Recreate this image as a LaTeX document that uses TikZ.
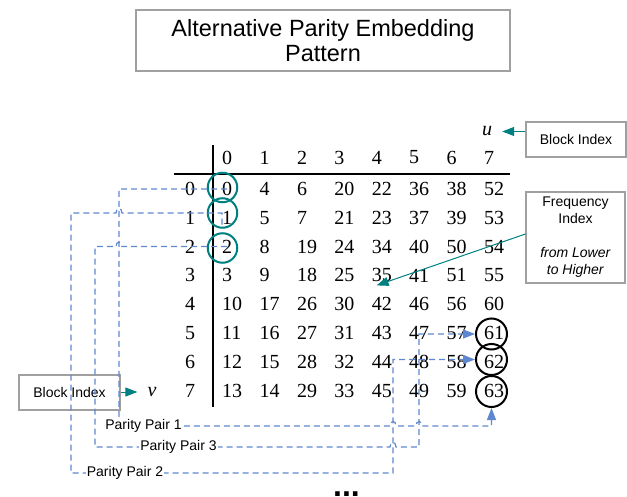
\documentclass[tikz,border=0pt]{standalone}
\usepackage{fontspec}
\setmainfont{Liberation Serif}
\newfontfamily\sansf{Liberation Sans}
\usetikzlibrary{arrows.meta}
\definecolor{tealc}{RGB}{0,128,128}
\definecolor{pairc}{RGB}{95,135,208}
\definecolor{boxgray}{RGB}{160,160,160}

\begin{document}
\begin{tikzpicture}[x=1pt,y=-1pt,
  num/.style={font=\fontsize{20}{22}\selectfont, inner sep=0pt, anchor=west},
  idx/.style={font=\fontsize{20}{22}\selectfont\itshape, inner sep=0pt},
  labelbox/.style={draw=boxgray, line width=1.1pt, font=\sansf\fontsize{14}{17}\selectfont,
    align=center, inner sep=0pt, minimum width=100pt},
  tealarrow/.style={draw=tealc, line width=1pt, -{Triangle[length=12pt,width=9pt,fill=tealc]}},
  pair/.style={draw=pairc, line width=1.2pt, dash pattern=on 6pt off 4pt,
    -{Triangle[length=12pt,width=9pt,fill=pairc]}},
  pairlabel/.style={font=\sansf\fontsize{14}{16}\selectfont, fill=white, inner sep=1pt},
  tealring/.style={circle, draw=tealc, line width=2pt, minimum size=29.5pt, inner sep=0pt},
  blackring/.style={circle, draw=black, line width=2pt, minimum size=31pt, inner sep=0pt},
  rule/.style={line width=2.5pt, draw=black}
]
\useasboundingbox (0,0) rectangle (627,497);

% title
\node[draw=boxgray, line width=1.1pt, minimum width=374pt, minimum height=61pt, align=center,
  font=\sansf\fontsize{23.5}{25}\selectfont, inner sep=0pt] (title) at (323,40.5)
  {Alternative Parity Embedding\\Pattern};

% column indices u
\foreach \i in {0,...,7}
  \node[num] (h-\i) at (222+37.4*\i,157.5) {\i};
% row indices v
\foreach \j in {0,...,7}
  \node[num] (r-\j) at (185,189+28.8*\j) {\j};

% frequency index table
\foreach \row [count=\j from 0] in {%
  {0,4,6,20,22,36,38,52},
  {1,5,7,21,23,37,39,53},
  {2,8,19,24,34,40,50,54},
  {3,9,18,25,35,41,51,55},
  {10,17,26,30,42,46,56,60},
  {11,16,27,31,43,47,57,61},
  {12,15,28,32,44,48,58,62},
  {13,14,29,33,45,49,59,63}} {
  \foreach \v [count=\i from 0] in \row
    \node[num] (c-\i-\j) at (222+37.4*\i,189+28.8*\j) {\v};
}

% table rules
\draw[rule] (174,174) -- (510,174);
\draw[rule] (213,145) -- (213,407);

% circled coefficients
\node[tealring] (t0) at (222.5,187.5) {};
\node[tealring] (t1) at (222.5,213) {};
\node[tealring] (t2) at (222.5,248) {};
\node[blackring] (o61) at (491.5,334) {};
\node[blackring] (o62) at (491.5,359.5) {};
\node[blackring] (o63) at (491.5,391.5) {};

% axis names and their labels
\node[idx] (u) at (487,131.5) {u};
\node[idx] (v) at (152,392) {v};
\node[labelbox, minimum height=35pt] (bir) at (576,139.5) {Block Index};
\node[labelbox, minimum height=35pt, minimum width=101pt] (bil) at (69.5,392.5) {Block Index};
\node[labelbox, minimum height=91pt, minimum width=99pt] (fi) at (575.5,237.5)
  {Frequency\\Index\\[17pt]\textit{from Lower}\\\textit{to Higher}};

\draw[tealarrow] (bir.west |- u) -- ([xshift=10pt]u.east);
\draw[tealarrow] (bil.east |- v) -- ([xshift=-10pt]v.west);
\draw[tealarrow] ([yshift=3.5pt]fi.west) -- ([shift={(5pt,-10pt)}]c-4-3.west);

% parity pair 1: (0,0) -> 63
\draw[pair] (c-0-0.center) -- (119,189) -- (119,426)
  -- (390,426) .. controls (390,420) and (396,420) .. (396,426)
  -- (416,426) .. controls (416,420) and (422,420) .. (422,426)
  -- (o63.south |- 0,426) -- (o63.south);

% parity pair 3: (0,2) -> 61
\draw[pair] (c-0-2.center) -- (122,246.6) .. controls (122,240.6) and (116,240.6) .. (116,246.6)
  -- (95,246.6) -- (95,447)
  -- (390,447) .. controls (390,441) and (396,441) .. (396,447)
  -- (419,447) -- (419,334) -- (o61.west);

% parity pair 2: (0,1) -> 62
\draw[pair] (c-0-1.south west) -- (c-0-1.south west |- 0,213)
  -- (122,213) .. controls (122,207) and (116,207) .. (116,213)
  -- (71,213) -- (71,473) -- (393,473) -- (393,359.5) -- (o62.west);

\node[pairlabel] (pp1) at (143.5,426) {Parity Pair 1};
\node[pairlabel] (pp3) at (178.5,447) {Parity Pair 3};
\node[pairlabel] (pp2) at (125,473) {Parity Pair 2};

% continuation mark
\node[font=\sansf\bfseries\fontsize{32}{32}\selectfont, inner sep=0pt, anchor=base west]
  (dots) at (333,496.3) {...};
\end{tikzpicture}
\end{document}
